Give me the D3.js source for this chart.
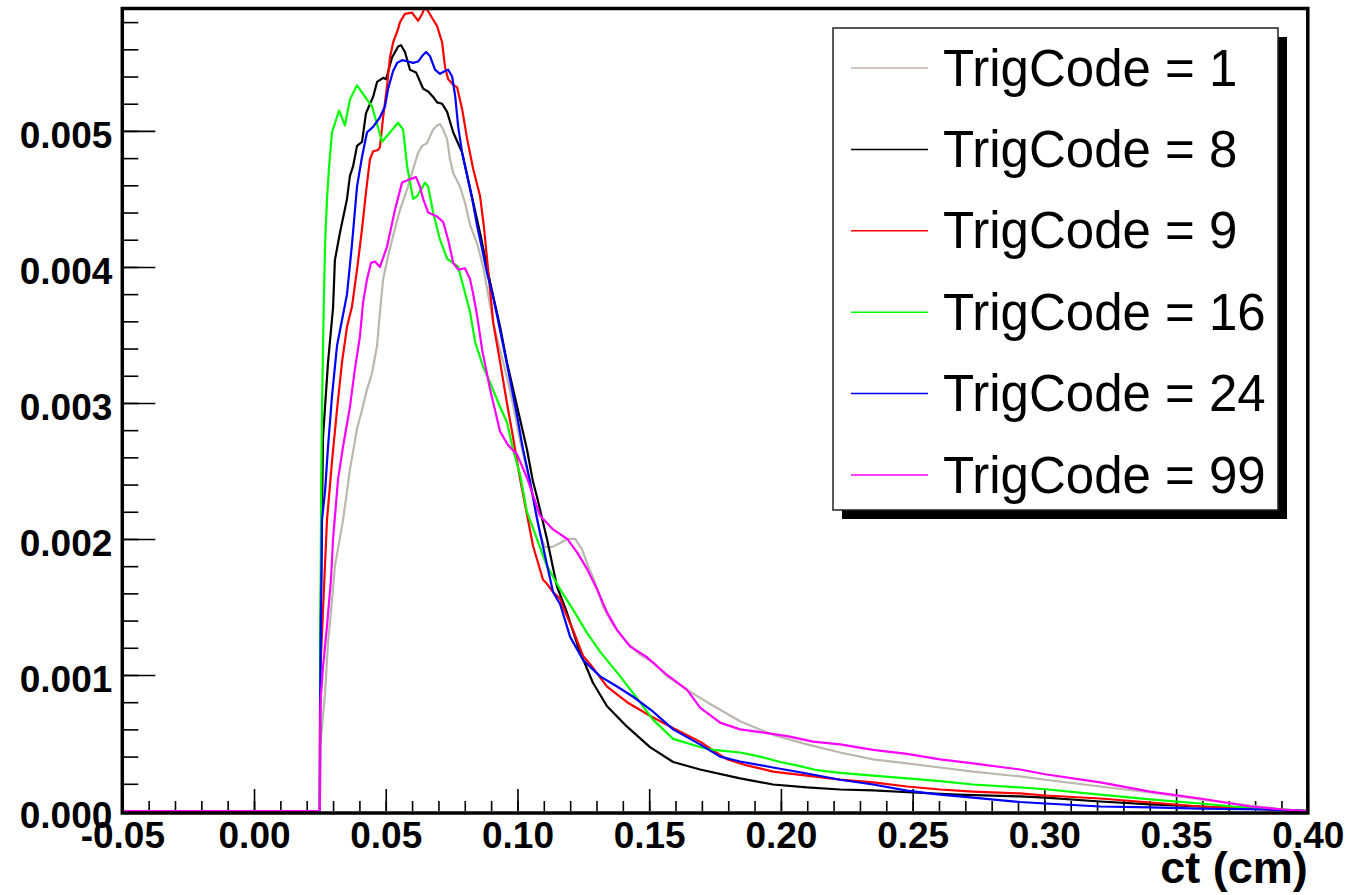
<!DOCTYPE html>
<html>
<head>
<meta charset="utf-8">
<script src="https://cdn.jsdelivr.net/npm/d3@7"></script>
<style>
  body { margin: 0; background: #fff; }
</style>
</head>
<body>
<div id="ct"></div>
<script>
/* distributions de ct (cm) par TrigCode.
 * valeurs, en unités de 1e-3 */

const trig1 = [[-0.05,0],[0.025,0],[0.0251,0.47],[0.0258,0.62],[0.0270,0.87],[0.0281,1.24],[0.0296,1.55],[0.0307,1.80],[0.0338,2.14],[0.0364,2.51],[0.0391,2.81],[0.0410,2.95],[0.0429,3.10],[0.0448,3.22],[0.0467,3.42],[0.0478,3.67],[0.0490,3.91],[0.0509,4.08],[0.0528,4.23],[0.0554,4.42],[0.0581,4.57],[0.0604,4.72],[0.0623,4.84],[0.0638,4.89],[0.0657,4.91],[0.0668,4.96],[0.0680,5.01],[0.0695,5.04],[0.0706,5.05],[0.0718,5.01],[0.0733,4.94],[0.0744,4.79],[0.0756,4.69],[0.0782,4.59],[0.0801,4.47],[0.0820,4.31],[0.0847,4.17],[0.0870,4.00],[0.0896,3.72],[0.0908,3.59],[0.0934,3.39],[0.0960,3.19],[0.0983,2.99],[0.1010,2.72],[0.1036,2.51],[0.1067,2.24],[0.1086,2.03],[0.1105,1.94],[0.1131,1.94],[0.1162,1.97],[0.1189,2.00],[0.1219,2.00],[0.1246,1.92],[0.1268,1.80],[0.1295,1.68],[0.1325,1.50],[0.1363,1.37],[0.1416,1.24],[0.1465,1.15],[0.1515,1.09],[0.1568,0.99],[0.1644,0.89],[0.1720,0.80],[0.1845,0.66],[0.1970,0.56],[0.2099,0.49],[0.2225,0.43],[0.2350,0.38],[0.2479,0.35],[0.2604,0.32],[0.2729,0.29],[0.2908,0.254],[0.3003,0.23],[0.3212,0.18],[0.3402,0.136],[0.3592,0.085],[0.3782,0.04],[0.3907,0.011],[0.40,0]]

const trig8 = [[-0.05,0],[0.025,0],[0.0251,1.2],[0.0262,2.75],[0.0281,3.30],[0.0300,3.70],[0.0307,4.05],[0.0326,4.25],[0.0353,4.50],[0.0364,4.67],[0.0376,4.74],[0.0391,4.89],[0.0410,4.92],[0.0425,5.13],[0.0452,5.25],[0.0467,5.36],[0.0490,5.39],[0.0501,5.38],[0.0524,5.54],[0.0547,5.62],[0.0558,5.63],[0.0573,5.58],[0.0592,5.45],[0.0615,5.43],[0.0642,5.31],[0.0661,5.29],[0.0680,5.25],[0.0695,5.21],[0.0714,5.20],[0.0733,5.14],[0.0756,4.99],[0.0790,4.84],[0.0858,4.25],[0.0896,3.89],[0.0934,3.56],[0.0960,3.30],[0.0999,2.97],[0.1036,2.66],[0.1059,2.42],[0.1074,2.31],[0.1112,2.00],[0.1150,1.65],[0.1184,1.48],[0.1233,1.19],[0.1286,0.945],[0.1340,0.77],[0.1416,0.62],[0.1503,0.47],[0.1591,0.36],[0.1693,0.305],[0.1845,0.24],[0.1970,0.195],[0.2099,0.173],[0.2225,0.158],[0.2350,0.151],[0.2502,0.136],[0.2669,0.121],[0.2908,0.107],[0.3003,0.099],[0.3212,0.07],[0.3402,0.048],[0.3592,0.033],[0.3846,0.011],[0.40,0]]

const trig9 = [[-0.05,0],[0.025,0],[0.0251,1.0],[0.0277,2.14],[0.0296,2.57],[0.0315,2.95],[0.0334,3.30],[0.0353,3.56],[0.0372,3.71],[0.0391,3.98],[0.0410,4.28],[0.0425,4.55],[0.0440,4.79],[0.0452,4.85],[0.0471,4.86],[0.0478,4.88],[0.0490,5.10],[0.0505,5.33],[0.0516,5.54],[0.0528,5.65],[0.0547,5.75],[0.0554,5.80],[0.0573,5.86],[0.0600,5.87],[0.0611,5.84],[0.0623,5.81],[0.0638,5.86],[0.0649,5.91],[0.0661,5.88],[0.0676,5.83],[0.0695,5.77],[0.0714,5.65],[0.0725,5.47],[0.0737,5.38],[0.0756,5.34],[0.0771,5.32],[0.0790,5.16],[0.0809,4.94],[0.0832,4.72],[0.0858,4.52],[0.0873,4.29],[0.0908,3.59],[0.0934,3.30],[0.0960,3.00],[0.0983,2.75],[0.1010,2.44],[0.1036,2.18],[0.1059,1.95],[0.1097,1.70],[0.1112,1.67],[0.1135,1.61],[0.1162,1.56],[0.1173,1.50],[0.1211,1.33],[0.1249,1.14],[0.1276,1.08],[0.1340,0.915],[0.1416,0.80],[0.1503,0.70],[0.1590,0.61],[0.1693,0.51],[0.1795,0.38],[0.1871,0.335],[0.1970,0.29],[0.2099,0.26],[0.2225,0.23],[0.2350,0.21],[0.2479,0.18],[0.2604,0.158],[0.2729,0.143],[0.2908,0.129],[0.3003,0.114],[0.3212,0.092],[0.3402,0.0625],[0.3592,0.033],[0.3782,0.018],[0.40,0]]

const trig16 = [[-0.05,0],[0.025,0],[0.0251,1.0],[0.0255,2.4],[0.0258,2.95],[0.0262,3.42],[0.0266,3.84],[0.0270,4.19],[0.0277,4.50],[0.0285,4.74],[0.0296,4.99],[0.0323,5.15],[0.0345,5.04],[0.0364,5.23],[0.0391,5.335],[0.0429,5.23],[0.0448,5.18],[0.0486,4.92],[0.0547,5.06],[0.0566,5.01],[0.0581,4.74],[0.0604,4.50],[0.0619,4.52],[0.0649,4.62],[0.0661,4.59],[0.0680,4.40],[0.0706,4.20],[0.0733,4.06],[0.0755,4.03],[0.0775,4.00],[0.0794,3.86],[0.0820,3.67],[0.0839,3.45],[0.0869,3.27],[0.0896,3.15],[0.0934,2.97],[0.0960,2.86],[0.0983,2.66],[0.1010,2.47],[0.1036,2.20],[0.1074,2.00],[0.1112,1.80],[0.1162,1.63],[0.1211,1.48],[0.1264,1.31],[0.1314,1.17],[0.1390,0.99],[0.1465,0.80],[0.1515,0.67],[0.1591,0.53],[0.1693,0.47],[0.1743,0.45],[0.1845,0.43],[0.1921,0.40],[0.1997,0.36],[0.2073,0.33],[0.2137,0.30],[0.2225,0.28],[0.2350,0.26],[0.2479,0.24],[0.2604,0.22],[0.2729,0.195],[0.2908,0.173],[0.3003,0.16],[0.3212,0.12],[0.3402,0.085],[0.3592,0.055],[0.3717,0.033],[0.3846,0.018],[0.40,0]]

const trig24 = [[-0.05,0],[0.025,0],[0.0251,0.8],[0.0258,2.14],[0.0270,2.36],[0.0281,2.68],[0.0296,3.05],[0.0315,3.42],[0.0334,3.61],[0.0353,3.80],[0.0372,4.17],[0.0391,4.59],[0.0410,4.81],[0.0429,4.99],[0.0452,5.03],[0.0478,5.10],[0.0497,5.18],[0.0509,5.31],[0.0528,5.44],[0.0543,5.50],[0.0562,5.52],[0.0585,5.51],[0.0604,5.50],[0.0623,5.51],[0.0638,5.55],[0.0653,5.58],[0.0668,5.55],[0.0687,5.45],[0.0706,5.42],[0.0725,5.44],[0.0737,5.45],[0.0752,5.40],[0.0764,5.25],[0.0775,5.03],[0.0790,4.84],[0.0809,4.67],[0.0828,4.50],[0.0847,4.30],[0.0866,4.13],[0.0885,3.95],[0.0904,3.81],[0.0923,3.64],[0.0946,3.42],[0.0972,3.17],[0.0999,2.90],[0.1021,2.66],[0.1048,2.42],[0.1074,2.15],[0.1112,1.81],[0.1135,1.61],[0.1162,1.52],[0.1200,1.28],[0.1249,1.11],[0.1314,0.99],[0.1378,0.915],[0.1439,0.84],[0.1515,0.73],[0.1591,0.60],[0.1693,0.49],[0.1769,0.40],[0.1845,0.364],[0.1970,0.32],[0.2099,0.276],[0.2225,0.23],[0.2350,0.195],[0.2479,0.15],[0.2604,0.121],[0.2729,0.099],[0.2908,0.066],[0.3003,0.055],[0.3212,0.033],[0.3402,0.026],[0.3592,0.018],[0.3846,0.011],[0.40,0]]

const trig99 = [[-0.05,0],[0.025,0],[0.0251,0.67],[0.0253,0.82],[0.0262,1.06],[0.0277,1.36],[0.0292,1.70],[0.0300,2.0],[0.0319,2.44],[0.0338,2.68],[0.0364,2.97],[0.0383,3.25],[0.0402,3.49],[0.0414,3.74],[0.0429,3.91],[0.0444,4.03],[0.0459,4.04],[0.0478,4.00],[0.0505,4.15],[0.0535,4.42],[0.0562,4.62],[0.0585,4.64],[0.0615,4.66],[0.0630,4.59],[0.0642,4.50],[0.0661,4.40],[0.0695,4.37],[0.0718,4.33],[0.0737,4.20],[0.0756,4.03],[0.0775,3.98],[0.0801,3.99],[0.0820,3.91],[0.0832,3.80],[0.0847,3.64],[0.0866,3.39],[0.0896,3.10],[0.0934,2.79],[0.0964,2.69],[0.0999,2.62],[0.1036,2.45],[0.1086,2.17],[0.1135,2.07],[0.1189,2.00],[0.1227,1.90],[0.1264,1.78],[0.1302,1.63],[0.1340,1.46],[0.1378,1.33],[0.1427,1.21],[0.1492,1.13],[0.1568,1.00],[0.1644,0.89],[0.1693,0.76],[0.1769,0.65],[0.1845,0.60],[0.1921,0.58],[0.2024,0.55],[0.2122,0.51],[0.2225,0.49],[0.2350,0.45],[0.2479,0.42],[0.2604,0.38],[0.2729,0.35],[0.2908,0.305],[0.3003,0.27],[0.3212,0.21],[0.3402,0.143],[0.3592,0.092],[0.3782,0.033],[0.3907,0.011],[0.40,0]]

const codes = [1, 8, 9, 16, 24, 99]
const seriesValues = [trig1, trig8, trig9, trig16, trig24, trig99]

const xTicks = [-0.05, 0, 0.05, 0.10, 0.15, 0.20, 0.25, 0.30, 0.35, 0.40]
const xTickLabels = ["-0.05", "0.00", "0.05", "0.10", "0.15", "0.20", "0.25", "0.30", "0.35", "0.40"]
const yTicks = [0, 1, 2, 3, 4, 5]
const yTickLabels = ["0.000", "0.001", "0.002", "0.003", "0.004", "0.005"]
const xTitle = "ct (cm)"

// styles
const couleurs = ["#bdb6ae", "#000000", "#ff0000", "#00ff00", "#0000ff", "#ff00ff"]
const police = "'Liberation Sans', Arial, Helvetica, sans-serif"

const margin = { top: 8.5, right: 40.2, bottom: 84, left: 122.3 },
    W = 1348, H = 895,
    width = W - margin.left - margin.right,
    height = H - margin.top - margin.bottom

const svg = d3.select("#ct").append("svg")
    .attr("width", W)
    .attr("height", H)
    .style("background", "#fff")

const g = svg.append("g")
    .attr("transform", "translate(" + margin.left + "," + margin.top + ")")

const x = d3.scaleLinear().domain([-0.05, 0.40]).range([0, width])
const y = d3.scaleLinear().domain([0, 5.9]).range([height, 0])

/* ticks mineurs puis majeurs, vers l'intérieur comme ROOT */
g.append("g")
    .attr("transform", "translate(0," + height + ")")
    .call(d3.axisBottom(x).tickValues(d3.range(-0.05, 0.4001, 0.01)).tickSize(-10).tickFormat(""))
    .call(a => a.select(".domain").remove())
    .selectAll("line").attr("stroke-width", 1.6)

g.append("g")
    .attr("transform", "translate(0," + height + ")")
    .call(d3.axisBottom(x).tickValues(xTicks).tickSize(-22).tickPadding(11)
        .tickFormat((d, i) => xTickLabels[i]))
    .call(a => a.select(".domain").remove())
    .call(a => a.selectAll("line").attr("stroke-width", 1.6))
    .selectAll("text")
    .attr("font-family", police)
    .attr("font-weight", "bold")
    .attr("font-size", 37)
    .attr("fill", "#000")

g.append("g")
    .call(d3.axisLeft(y).tickValues(d3.range(0, 5.9, 0.2)).tickSize(-16).tickFormat(""))
    .call(a => a.select(".domain").remove())
    .selectAll("line").attr("stroke-width", 1.6)

g.append("g")
    .call(d3.axisLeft(y).tickValues(yTicks).tickSize(-33).tickPadding(10)
        .tickFormat((d, i) => yTickLabels[i]))
    .call(a => a.select(".domain").remove())
    .call(a => a.selectAll("line").attr("stroke-width", 1.6))
    .selectAll("text")
    .attr("font-family", police)
    .attr("font-weight", "bold")
    .attr("font-size", 37)
    .attr("dy", "0.45em")
    .attr("fill", "#000")

// courbes
svg.append("defs").append("clipPath").attr("id", "cadre")
    .append("rect").attr("x", 0).attr("y", 0).attr("width", width).attr("height", height + 2)

const line = d3.line()
    .x(d => x(d[0]))
    .y(d => y(d[1]))

g.append("g")
    .attr("clip-path", "url(#cadre)")
    .selectAll("path")
    .data(seriesValues)
    .join("path")
    .attr("d", line)
    .attr("fill", "none")
    .attr("stroke", (d, i) => couleurs[i])
    .attr("stroke-width", 2.2)
    .attr("stroke-linejoin", "round")

// cadre
g.append("rect")
    .attr("x", 0).attr("y", 0)
    .attr("width", width).attr("height", height + 2)
    .attr("fill", "none")
    .attr("stroke", "#000")
    .attr("stroke-width", 3.5)

g.append("text")
    .attr("x", width)
    .attr("y", height + 72)
    .attr("text-anchor", "end")
    .attr("font-family", police)
    .attr("font-weight", "bold")
    .attr("font-size", 45)
    .text(xTitle)

/* légende avec ombre */
const leg = svg.append("g")
leg.append("rect")
    .attr("x", 842).attr("y", 37).attr("width", 445).attr("height", 482)
    .attr("fill", "#000")
leg.append("rect")
    .attr("x", 833).attr("y", 28).attr("width", 445).attr("height", 482)
    .attr("fill", "#fff")
    .attr("stroke", "#222")
    .attr("stroke-width", 1.5)

const rows = leg.selectAll("g.row")
    .data(codes)
    .join("g")
    .attr("class", "row")
    .attr("transform", (d, i) => "translate(0," + (68 + i * 81.4) + ")")

rows.append("line")
    .attr("x1", 851).attr("x2", 928)
    .attr("stroke", (d, i) => couleurs[i])
    .attr("stroke-width", 1.5)

rows.append("text")
    .attr("x", 943)
    .attr("y", 17.5)
    .attr("font-family", police)
    .attr("font-size", 51)
    .text(d => "TrigCode = " + d)
</script>
</body>
</html>
